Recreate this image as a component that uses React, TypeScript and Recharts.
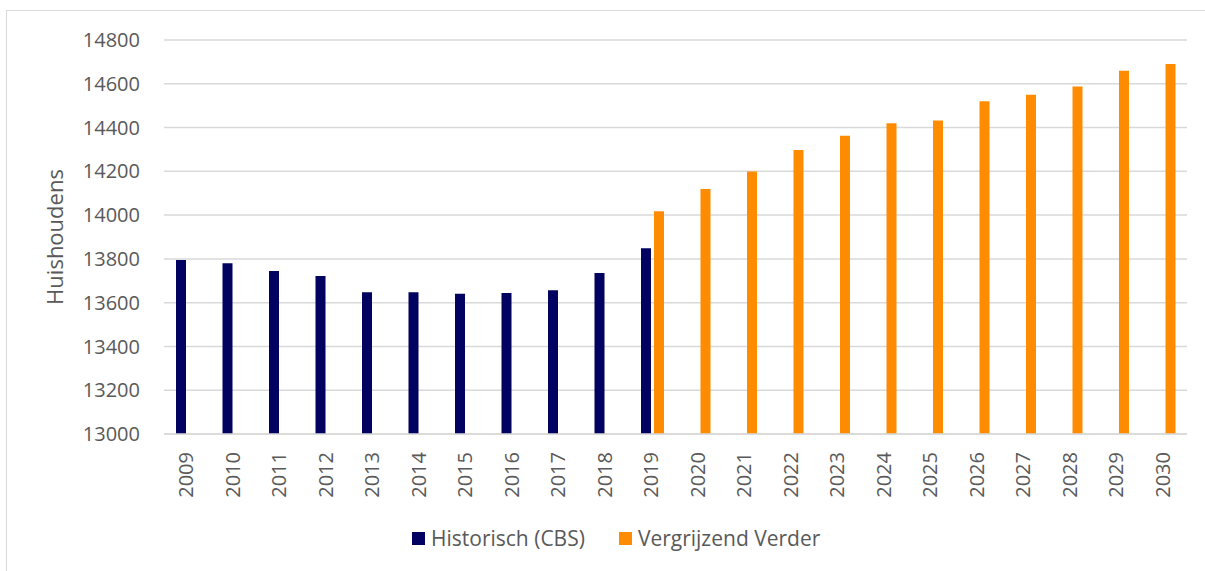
import React from 'react';
import { BarChart, Bar, XAxis, YAxis, CartesianGrid, Legend } from 'recharts';

const years = [
  '2009', '2010', '2011', '2012', '2013', '2014', '2015', '2016', '2017', '2018', '2019',
  '2020', '2021', '2022', '2023', '2024', '2025', '2026', '2027', '2028', '2029', '2030',
];

const historisch = [
  13795, 13780, 13745, 13722, 13648, 13648, 13641, 13644, 13657, 13735, 13849,
  null, null, null, null, null, null, null, null, null, null, null,
];

const vergrijzend = [
  null, null, null, null, null, null, null, null, null, null, 14018,
  14119, 14199, 14298, 14362, 14420, 14432, 14520, 14550, 14588, 14660, 14690,
];

const yTicks = [13000, 13200, 13400, 13600, 13800, 14000, 14200, 14400, 14600, 14800];

const data = years.map((year, i) => ({
  year,
  historisch: historisch[i],
  vergrijzend: vergrijzend[i],
}));

const NAVY = '#020260';
const ORANGE = '#FF8C00';
const TEXT = '#595959';
const FONT = '"Open Sans", sans-serif';

const YearTick = ({ x, y, payload }: any) => (
  <text
    transform={`translate(${x - 1}, ${y + 18}) rotate(-90)`}
    textAnchor="end"
    dy="0.36em"
    fill={TEXT}
    fontSize={20}
    fontFamily={FONT}
  >
    {payload.value}
  </text>
);

// rotated axis title, centred on the plot height
const AxisTitle = ({ viewBox }: any) => {
  const cy = viewBox.y + viewBox.height / 2;
  return (
    <text
      transform={`translate(63, ${cy}) rotate(-90)`}
      textAnchor="middle"
      fill={TEXT}
      fontSize={22}
      fontFamily={FONT}
    >
      Huishoudens
    </text>
  );
};

const LegendContent = () => (
  <div style={{ display: 'flex', alignItems: 'center', fontFamily: FONT, fontSize: 21, color: TEXT }}>
    <span style={{ width: 13, height: 13, background: NAVY, marginRight: 6 }} />
    <span style={{ marginRight: 34 }}>Historisch (CBS)</span>
    <span style={{ width: 13, height: 13, background: ORANGE, marginRight: 6 }} />
    <span>Vergrijzend Verder</span>
  </div>
);

export default function App() {
  return (
    <div style={{ position: 'absolute', left: 0, top: 0, width: 1205, height: 571, overflow: 'hidden', background: '#fff' }}>
      {/* chart area frame */}
      <div
        style={{
          position: 'absolute',
          left: 6,
          top: 10,
          width: 1220,
          height: 600,
          borderLeft: '1.5px solid #d9d9d9',
          borderTop: '1.5px solid #d9d9d9',
        }}
      />
      <BarChart
        width={1205}
        height={571}
        data={data}
        margin={{ top: 40, right: 18, left: 0, bottom: 57 }}
        barSize={10}
        barGap={3}
        style={{ position: 'absolute', left: 0, top: 0 }}
      >
        <CartesianGrid vertical={false} stroke="#d9d9d9" strokeWidth={1.5} />
        <XAxis
          dataKey="year"
          interval={0}
          tick={<YearTick />}
          tickLine={false}
          tickSize={0}
          tickMargin={0}
          axisLine={{ stroke: '#d9d9d9', strokeWidth: 1.5 }}
          height={80}
        />
        <YAxis
          width={164}
          domain={[13000, 14800]}
          ticks={yTicks}
          interval={0}
          axisLine={false}
          tickLine={false}
          tickSize={0}
          tickMargin={24}
          tick={{ fill: TEXT, fontSize: 20, fontFamily: FONT }}
          label={<AxisTitle />}
        />
        <Legend
          layout="horizontal"
          verticalAlign="middle"
          align="center"
          content={<LegendContent />}
          wrapperStyle={{ position: 'absolute', left: 412, top: 524, width: 'auto' }}
        />
        <Bar dataKey="historisch" name="Historisch (CBS)" fill={NAVY} isAnimationActive={false} />
        <Bar dataKey="vergrijzend" name="Vergrijzend Verder" fill={ORANGE} isAnimationActive={false} />
      </BarChart>
    </div>
  );
}
